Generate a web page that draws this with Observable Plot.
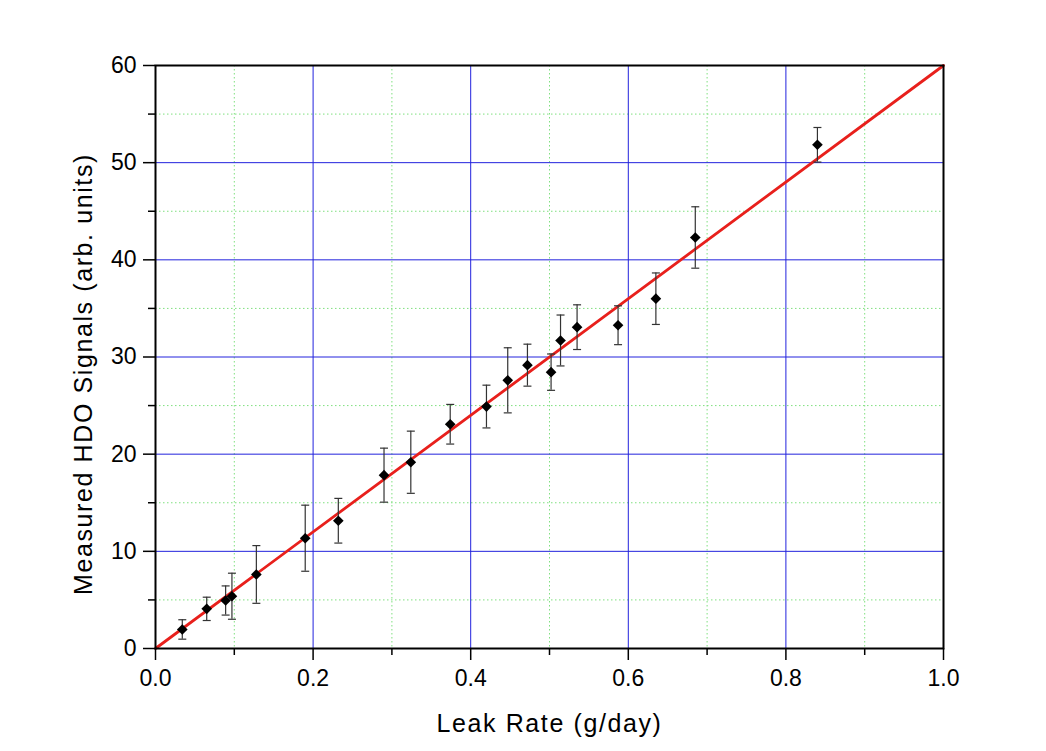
<!DOCTYPE html>
<html><head><meta charset="utf-8">
<script src="https://cdn.jsdelivr.net/npm/d3@7"></script>
<script src="https://cdn.jsdelivr.net/npm/@observablehq/plot@0.6"></script>
<style>body{margin:0;background:#fff}</style>
</head><body><div id="chart"></div>
<script>
const leakRate  = [0.034, 0.065, 0.089, 0.097, 0.128, 0.190, 0.232, 0.290, 0.324, 0.374, 0.420, 0.447, 0.472, 0.502, 0.514, 0.535, 0.587, 0.635, 0.685, 0.840];
const hdoSignal = [1.96, 4.08, 4.94, 5.38, 7.62, 11.35, 13.15, 17.84, 19.17, 23.08, 24.9, 27.6, 29.16, 28.44, 31.7, 33.07, 33.27, 36.0, 42.3, 51.84];
const signalErr = [1.0, 1.2, 1.5, 2.37, 2.97, 3.4, 2.3, 2.78, 3.2, 2.04, 2.2, 3.35, 2.16, 1.87, 2.62, 2.3, 2.0, 2.65, 3.16, 1.78];
const fitX = [0, 1.0];
const fitY = [0, 60];
const xMajorTicks = [0, 0.2, 0.4, 0.6, 0.8, 1.0];
const xMinorTicks = [0.1, 0.3, 0.5, 0.7, 0.9];
const yMajorTicks = [0, 10, 20, 30, 40, 50, 60];
const yMinorTicks = [5, 15, 25, 35, 45, 55];
const xTitle = "Leak Rate (g/day)";
const yTitle = "Measured HDO Signals (arb. units)";

const points = leakRate.map((x, i) => ({x, y: hdoSignal[i], lo: hdoSignal[i] - signalErr[i], hi: hdoSignal[i] + signalErr[i]}));
const fit = fitX.map((x, i) => ({x, y: fitY[i]}));

const capSymbol = {draw(ctx, size) { const r = Math.sqrt(size / Math.PI); ctx.moveTo(-r, 0); ctx.lineTo(r, 0); }};

const chart = Plot.plot({
  width: 1046, height: 751,
  marginLeft: 155, marginRight: 103, marginTop: 65, marginBottom: 103,
  style: {fontFamily: "'Liberation Sans', Arial, sans-serif", background: "#fff", color: "#000"},
  x: {domain: [0, 1], axis: null},
  y: {domain: [0, 60], axis: null},
  marks: [
    Plot.ruleX(xMinorTicks, {stroke: "#7fe07f", strokeDasharray: "1.5,2.5", strokeWidth: 1}),
    Plot.ruleY(yMinorTicks, {stroke: "#7fe07f", strokeDasharray: "1.5,2.5", strokeWidth: 1}),
    Plot.ruleX(xMajorTicks.slice(1, -1), {stroke: "#2222dd", strokeWidth: 1}),
    Plot.ruleY(yMajorTicks.slice(1, -1), {stroke: "#2222dd", strokeWidth: 1}),
    Plot.line(fit, {x: "x", y: "y", stroke: "#e8201c", strokeWidth: 2.8}),
    Plot.ruleX(points, {x: "x", y1: "lo", y2: "hi", stroke: "#333", strokeWidth: 1.2}),
    Plot.dot(points, {x: "x", y: "lo", symbol: capSymbol, r: 4, stroke: "#333", strokeWidth: 1.2}),
    Plot.dot(points, {x: "x", y: "hi", symbol: capSymbol, r: 4, stroke: "#333", strokeWidth: 1.2}),
    Plot.dot(points, {x: "x", y: "y", symbol: "diamond2", r: 4.8, fill: "#000", stroke: "none"}),
    Plot.frame({stroke: "#000", strokeWidth: 2}),
    Plot.axisX(xMajorTicks, {label: null, tickSize: 12, tickPadding: 9, strokeWidth: 1.5, fontSize: 23, tickFormat: d3.format(".1f"), fill: "#000"}),
    Plot.axisX(xMinorTicks, {label: null, tickSize: 7, strokeWidth: 1.5, tickFormat: () => ""}),
    Plot.axisY(yMajorTicks, {label: null, tickSize: 12, tickPadding: 7, strokeWidth: 1.5, fontSize: 23, tickFormat: d3.format("d"), fill: "#000"}),
    Plot.axisY(yMinorTicks, {label: null, tickSize: 7, strokeWidth: 1.5, tickFormat: () => ""}),
    Plot.text([xTitle], {frameAnchor: "bottom", dy: 75, fontSize: 25, lineAnchor: "middle", textAnchor: "middle", fill: "#000"}),
    Plot.text([yTitle], {frameAnchor: "left", dx: -72, dy: 17, rotate: -90, fontSize: 25, lineAnchor: "middle", textAnchor: "middle", fill: "#000"})
  ]
});
document.getElementById("chart").appendChild(chart);
d3.select(chart).selectAll("text").filter(function(){ return this.textContent === xTitle || this.textContent === yTitle; }).style("letter-spacing", "1.6px");
</script>
</body></html>
